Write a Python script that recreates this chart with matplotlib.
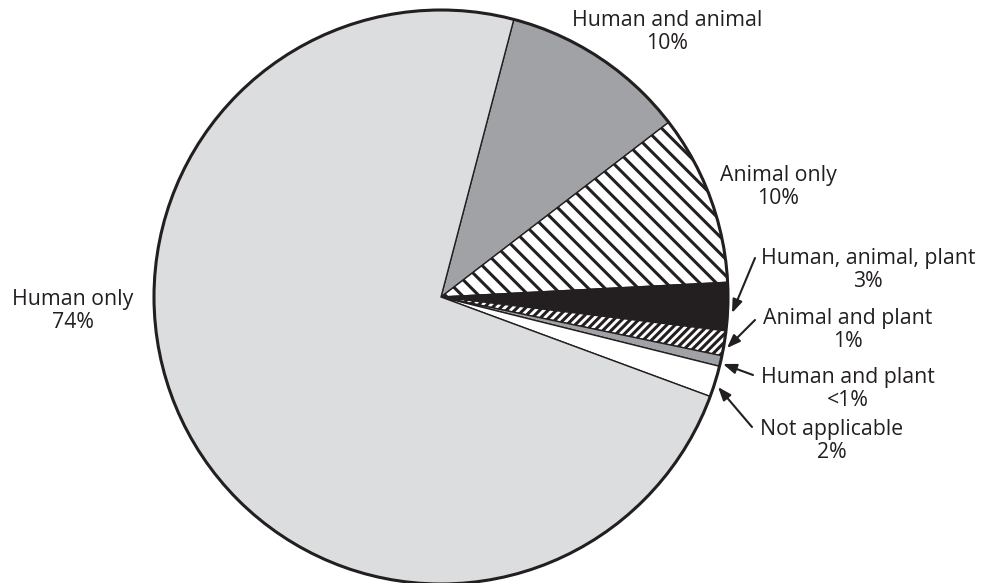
import matplotlib
matplotlib.use("Agg")
import matplotlib.pyplot as plt
from matplotlib.patches import Circle

# slice shares (percent), clockwise from top
categories = ["Human and animal", "Animal only", "Human, animal, plant",
              "Animal and plant", "Human and plant", "Not applicable", "Human only"]
shares = [10.5, 9.6, 2.7, 1.4, 0.6, 1.75, 73.45]
shown = ["10%", "10%", "3%", "1%", "<1%", "2%", "74%"]

colors = ["#a1a2a5", "white", "#231f20", "white", "#a1a2a5", "white", "#dcdddf"]
hatches = [None, "\\\\", None, "////", None, None, None]

plt.rcParams["font.family"] = ["Open Sans", "DejaVu Sans"]
plt.rcParams["hatch.linewidth"] = 2.2

H = 583
fig = plt.figure(figsize=(9.81, 5.83), dpi=100)
ax = fig.add_axes([0, 0, 1, 1])
ax.set_xlim(0, 981)
ax.set_ylim(0, H)
ax.set_aspect("equal")
ax.axis("off")

cx, cy, r = 441, H - 297, 287
wedges, _ = ax.pie(shares, colors=colors, startangle=75.3, counterclock=False,
                   center=(cx, cy), radius=r,
                   wedgeprops=dict(edgecolor="#231f20", linewidth=1.0))
for w, h in zip(wedges, hatches):
    if h:
        w.set_hatch(h)
ax.add_patch(Circle((cx, cy), r, fill=False, edgecolor="#231f20", linewidth=2.2, zorder=5))
ax.set_xlim(0, 981)
ax.set_ylim(0, H)

fs = 15.3
txt = dict(ha="center", va="center", fontsize=fs, color="#231f20", linespacing=1.15)

# labels without arrows
ax.text(667, H - 32, categories[0] + "\n" + shown[0], **txt)
ax.text(778, H - 187, categories[1] + "\n" + shown[1], **txt)
ax.text(73, H - 311, categories[6] + "\n" + shown[6], **txt)

# labels with arrows: (text center, arrow start, arrow tip) in image pixels
arrowed = [
    (2, (868, 270), (755, 258), (732, 313)),
    (3, (848, 330), (755, 320), (727, 348)),
    (4, (848, 389), (753, 375), (723, 364)),
    (5, (832, 441), (752, 427), (718, 387)),
]
for i, (tx, ty), (sx, sy), (ex, ey) in arrowed:
    ax.text(tx, H - ty, categories[i] + "\n" + shown[i], **txt)
    ax.annotate("", xy=(ex, H - ey), xytext=(sx, H - sy),
                arrowprops=dict(arrowstyle="-|>,head_length=0.8,head_width=0.3",
                                color="#231f20", lw=1.5, shrinkA=0, shrinkB=0))

fig.savefig("out.png", dpi=100)
